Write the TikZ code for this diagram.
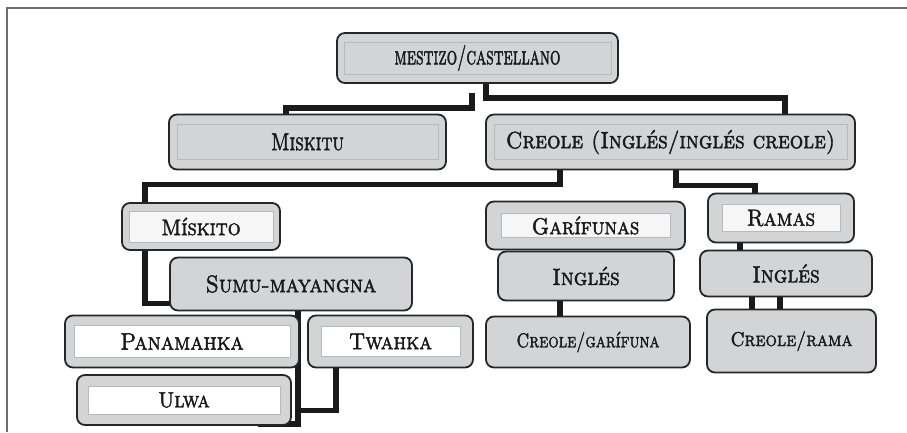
\documentclass[tikz,border=0pt]{standalone}
\usepackage{fontspec}
\usepackage{tikz}
\usetikzlibrary{backgrounds}
\newfontfamily\capsfont{lmromancaps10-regular.otf}[FakeBold=1.8,FakeStretch=0.9]
\definecolor{boxgray}{HTML}{D3D4D6}
\definecolor{boxedge}{HTML}{262626}
\definecolor{linkblack}{HTML}{1A1A1A}
\definecolor{palegray}{HTML}{F6F6F6}
\definecolor{framegray}{HTML}{6E6E6E}
\tikzset{
  box/.style={draw=boxedge,fill=boxgray,line width=1.8pt,rounded corners=8pt,inner sep=0pt,outer sep=0pt,text=black!90},
  caps/.style={font=\capsfont\fontsize{#1}{#1}\selectfont},
  insetline/.style={draw=gray!55,line width=0.6pt,sharp corners},
  inset/.style n args={3}{path picture={
    \draw[insetline,fill=#1] ([shift={(#2,-#3)}]path picture bounding box.north west)
      rectangle ([shift={(-#2,#3)}]path picture bounding box.south east);}},
  link/.style={draw=linkblack,line width=5.5pt,line cap=butt,line join=miter},
  frameline/.style={draw=framegray,line width=1.2pt}
}

\begin{document}
\begin{tikzpicture}[x=1pt,y=-1pt]
  \useasboundingbox (0,0) rectangle (907,432);
  \draw[frameline] (7,432) -- (7,8) -- (907,8);

  % first rows
  \node[box,caps=25.5,inset={boxgray}{7pt}{9pt},minimum width=281pt,minimum height=50pt] (mestizo) at (477.5,58) {\scalebox{0.72}[1]{mestizo/castellano}};
  \node[box,caps=24.5,inset={boxgray}{8pt}{10pt},minimum width=277pt,minimum height=55pt] (miskitu) at (307.5,142) {\scalebox{0.85}[1]{Miskitu}};
  \node[box,caps=23.5,inset={boxgray}{8pt}{10pt},minimum width=369pt,minimum height=55pt] (creole) at (670.5,142) {Creole (Inglés/inglés creole)};

  % left branch
  \node[box,caps=22.5,inset={palegray}{7pt}{8pt},minimum width=158pt,minimum height=47pt] (miskito) at (201,226.5) {Mískito};
  \node[box,caps=24,minimum width=242pt,minimum height=53pt] (sumu) at (291,284) {Sumu-mayangna};
  \node[box,caps=24,inset={white}{9pt}{10pt},minimum width=234pt,minimum height=52pt] (panamahka) at (182,341.5) {Panamahka};
  \node[box,caps=23,inset={white}{13pt}{11pt},minimum width=165pt,minimum height=52pt] (twahka) at (390.5,341.5) {Twahka};
  \node[box,caps=22,inset={white}{11pt}{11pt},minimum width=214pt,minimum height=50pt] (ulwa) at (184,400) {Ulwa};

  % middle and right branch
  \node[box,caps=23,inset={palegray}{15pt}{12pt},minimum width=199pt,minimum height=48pt] (garifunas) at (585.5,225.5) {Garífunas};
  \node[box,caps=23.5,minimum width=176pt,minimum height=49pt] (inglesg) at (586,276) {Inglés};
  \node[box,caps=20,minimum width=204pt,minimum height=51pt] (creoleg) at (588,342) {\scalebox{0.91}[1]{Creole/garífuna}};
  \node[box,caps=23.5,inset={palegray}{14pt}{11pt},minimum width=146pt,minimum height=49pt] (ramas) at (781,218) {Ramas};
  \node[box,caps=23.5,minimum width=172pt,minimum height=46pt] (inglesr) at (786,273.5) {Inglés};
  \node[box,caps=20,minimum width=169pt,minimum height=63pt] (creoler) at (791.5,341) {Creole/rama};

  \begin{scope}[on background layer]
    \draw[link] ([xshift=8.5pt]mestizo.south) -- ++(0,15) -| ([xshift=114.5pt]creole.north);
    \draw[link] ([xshift=-5.5pt,yshift=-10pt]mestizo.south) -- ++(0,15) -| ([xshift=-21.5pt]miskitu.north);
    \draw[link] ([xshift=-110.5pt]creole.south) -- ++(0,15) -| ([xshift=-56pt]miskito.north);
    \draw[link] ([xshift=5.5pt]creole.south) -- ++(0,16) -| ([xshift=-26pt]ramas.north);
    \draw[link] ([xshift=-56pt]miskito.south) |- ([yshift=-19.5pt]sumu.west);
    \draw[link] ([xshift=7pt]sumu.south) |- ([xshift=74pt,yshift=1pt]ulwa.south);
    \draw[link] ([xshift=-54.5pt]twahka.south) -- ++(0,43) -| ([xshift=7pt]sumu.south);
    \draw[link] ([xshift=-26pt]inglesg.south) -- ([xshift=-28pt]creoleg.north);
    \draw[link] ([xshift=-41pt]ramas.south) -- ([xshift=-46pt]inglesr.north);
    \draw[link] ([xshift=-34pt]inglesr.south) -- ([xshift=-39.5pt]creoler.north);
    \draw[link] ([xshift=-6pt]inglesr.south) -- ([xshift=-11.5pt]creoler.north);
  \end{scope}
\end{tikzpicture}
\end{document}
